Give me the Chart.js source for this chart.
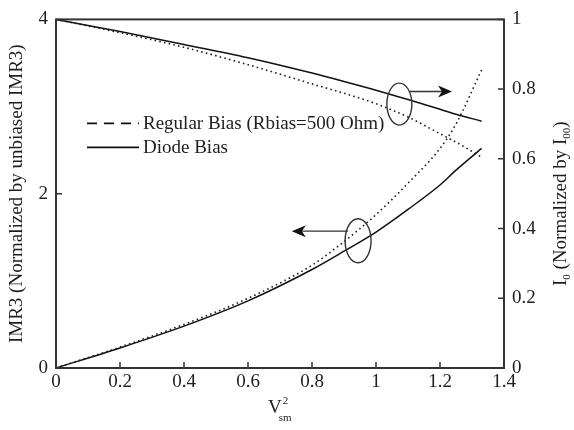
<!DOCTYPE html>
<html>
<head>
<meta charset="utf-8">
<script src="https://cdn.jsdelivr.net/npm/chart.js@4.4.0/dist/chart.umd.min.js"></script>
<style>
html, body { margin: 0; padding: 0; background: #fff; }
</style>
</head>
<body>
<canvas id="imrChart" width="574" height="430"></canvas>
<script>
// data //
const vsq = [0, 0.2, 0.4, 0.6, 0.8, 0.9, 1.0, 1.1, 1.2, 1.25, 1.33];
const imr3Diode = [0, 0.23, 0.48, 0.77, 1.13, 1.34, 1.56, 1.82, 2.1, 2.27, 2.52];
const imr3Regular = [0, 0.24, 0.5, 0.8, 1.18, 1.45, 1.76, 2.12, 2.52, 2.8, 3.42];
const i0Diode = [1, 0.965, 0.928, 0.89, 0.846, 0.822, 0.797, 0.77, 0.742, 0.728, 0.708];
const i0Regular = [1, 0.962, 0.92, 0.87, 0.815, 0.788, 0.758, 0.72, 0.672, 0.648, 0.605];

const legendItems = ["Regular Bias (Rbias=500 Ohm)", "Diode Bias"];

const serif = '"Liberation Serif", "Times New Roman", serif';
const ink = '#1e1e1e';

function pts(ys) {
  return vsq.map((v, i) => ({ x: v, y: ys[i] }));
}

// 1.0 -> "1", 0.8 -> "0.8"
function tickLabel(v) {
  return String(+v.toFixed(1));
}

function arrow(ctx, x1, y1, x2, y2) {
  const ang = Math.atan2(y2 - y1, x2 - x1);
  ctx.beginPath();
  ctx.moveTo(x1, y1);
  ctx.lineTo(x2 - 8 * Math.cos(ang), y2 - 8 * Math.sin(ang));
  ctx.stroke();
  ctx.save();
  ctx.translate(x2, y2);
  ctx.rotate(ang);
  ctx.beginPath();
  ctx.moveTo(0, 0);
  ctx.lineTo(-14, -6);
  ctx.lineTo(-10, 0);
  ctx.lineTo(-14, 6);
  ctx.closePath();
  ctx.fill();
  ctx.restore();
}

// text with sub/superscripts, parts = [[text, size, shift]]
function richText(ctx, parts, x, y) {
  let w = 0;
  parts.forEach(p => { ctx.font = p[1] + 'px ' + serif; w += ctx.measureText(p[0]).width; });
  let cx = x - w / 2;
  parts.forEach(p => {
    ctx.font = p[1] + 'px ' + serif;
    ctx.fillText(p[0], cx, y + p[2]);
    cx += ctx.measureText(p[0]).width;
  });
}

const decorations = {
  id: 'decorations',
  afterDraw(chart) {
    const { ctx, chartArea: a, scales } = chart;
    const sx = scales.x, sy = scales.y, sy1 = scales.y1;
    ctx.save();
    // box
    ctx.strokeStyle = '#333';
    ctx.lineWidth = 2;
    ctx.strokeRect(a.left, a.top, a.right - a.left, a.bottom - a.top);
    // inward tick marks
    ctx.lineWidth = 1.5;
    ctx.beginPath();
    sx.ticks.forEach(t => {
      const p = sx.getPixelForValue(t.value);
      ctx.moveTo(p, a.bottom); ctx.lineTo(p, a.bottom - 6);
    });
    sy.ticks.forEach(t => {
      const p = sy.getPixelForValue(t.value);
      ctx.moveTo(a.left, p); ctx.lineTo(a.left + 6, p);
    });
    sy1.ticks.forEach(t => {
      const p = sy1.getPixelForValue(t.value);
      ctx.moveTo(a.right, p); ctx.lineTo(a.right - 6, p);
    });
    ctx.stroke();

    // legend
    ctx.strokeStyle = '#111';
    ctx.fillStyle = ink;
    ctx.lineWidth = 1.6;
    ctx.font = '19px ' + serif;
    ctx.textBaseline = 'middle';
    ctx.textAlign = 'left';
    legendItems.forEach((label, i) => {
      const ly = a.top + 104 + i * 24;
      ctx.setLineDash(i === 0 ? [10, 7] : []);
      ctx.beginPath();
      ctx.moveTo(a.left + 31, ly);
      ctx.lineTo(a.left + 83, ly);
      ctx.stroke();
      ctx.fillText(label, a.left + 87, ly + 1);
    });
    ctx.setLineDash([]);

    // ellipses + arrows
    ctx.strokeStyle = '#333';
    ctx.fillStyle = '#111';
    ctx.lineWidth = 1.4;
    const e1x = sx.getPixelForValue(1.073), e1y = sy1.getPixelForValue(0.757);
    ctx.beginPath(); ctx.ellipse(e1x, e1y, 12.5, 21, 0, 0, Math.PI * 2); ctx.stroke();
    arrow(ctx, sx.getPixelForValue(1.106), sy1.getPixelForValue(0.793),
               sx.getPixelForValue(1.2375), sy1.getPixelForValue(0.793));
    const e2x = sx.getPixelForValue(0.944), e2y = sy.getPixelForValue(1.46);
    ctx.beginPath(); ctx.ellipse(e2x, e2y, 13, 22, 0, 0, Math.PI * 2); ctx.stroke();
    arrow(ctx, sx.getPixelForValue(0.9125), sy.getPixelForValue(1.57),
               sx.getPixelForValue(0.737), sy.getPixelForValue(1.57));

    // x title V_sm^2
    ctx.fillStyle = ink;
    ctx.textBaseline = 'alphabetic';
    ctx.textAlign = 'left';
    const xm = (a.left + a.right) / 2;
    ctx.font = '19px ' + serif;
    const vw = ctx.measureText('V').width;
    ctx.fillText('V', xm - 12, 413);
    ctx.font = '11px ' + serif;
    ctx.fillText('2', xm - 12 + vw + 1, 404);
    ctx.fillText('sm', xm - 12 + vw - 3, 421);

    // right title I0 (Normalized by I00)
    ctx.save();
    ctx.translate(566, (a.top + a.bottom) / 2 + 10);
    ctx.rotate(-Math.PI / 2);
    richText(ctx, [['I', 19, 0], ['0', 11, 4], [' (Normalized by I', 19, 0], ['00', 11, 4], [')', 19, 0]], 0, 0);
    ctx.restore();
    ctx.restore();
  }
};

const tickFont = { family: serif, size: 19 };

new Chart(document.getElementById('imrChart').getContext('2d'), {
  type: 'line',
  data: {
    datasets: [
      {
        label: 'IMR3 Regular',
        data: pts(imr3Regular),
        yAxisID: 'y',
        borderColor: '#222',
        borderWidth: 1.6,
        borderDash: [1.6, 3.2],
        pointRadius: 0,
        cubicInterpolationMode: 'monotone'
      },
      {
        label: 'IMR3 Diode',
        data: pts(imr3Diode),
        yAxisID: 'y',
        borderColor: '#111',
        borderWidth: 1.5,
        pointRadius: 0,
        cubicInterpolationMode: 'monotone'
      },
      {
        label: 'I0 Regular',
        data: pts(i0Regular),
        yAxisID: 'y1',
        borderColor: '#222',
        borderWidth: 1.6,
        borderDash: [1.6, 3.2],
        pointRadius: 0,
        cubicInterpolationMode: 'monotone'
      },
      {
        label: 'I0 Diode',
        data: pts(i0Diode),
        yAxisID: 'y1',
        borderColor: '#111',
        borderWidth: 1.5,
        pointRadius: 0,
        cubicInterpolationMode: 'monotone'
      }
    ]
  },
  options: {
    responsive: false,
    animation: false,
    devicePixelRatio: 1,
    layout: { padding: { top: 14, left: 0, right: 0, bottom: 0 } },
    plugins: {
      legend: { display: false },
      tooltip: { enabled: false }
    },
    scales: {
      x: {
        type: 'linear',
        min: 0,
        max: 1.4,
        ticks: { stepSize: 0.2, font: tickFont, color: ink, padding: 3, maxRotation: 0, callback: tickLabel },
        grid: { drawOnChartArea: false, drawTicks: false },
        border: { display: false },
        afterFit(scale) { scale.height = 62; }
      },
      y: {
        position: 'left',
        min: 0,
        max: 4,
        ticks: { stepSize: 2, font: tickFont, color: ink, padding: 8, callback: tickLabel },
        grid: { drawOnChartArea: false, drawTicks: false },
        border: { display: false },
        title: {
          display: true,
          text: 'IMR3 (Normalized by unbiased IMR3)',
          font: { family: serif, size: 19 },
          color: ink,
          padding: { top: 6, bottom: 0 }
        },
        afterFit(scale) { scale.width = 56; }
      },
      y1: {
        position: 'right',
        min: 0,
        max: 1,
        ticks: { stepSize: 0.2, font: tickFont, color: ink, padding: 8, callback: tickLabel },
        grid: { drawOnChartArea: false, drawTicks: false },
        border: { display: false },
        afterFit(scale) { scale.width = 70; }
      }
    }
  },
  plugins: [decorations]
});
</script>
</body>
</html>
